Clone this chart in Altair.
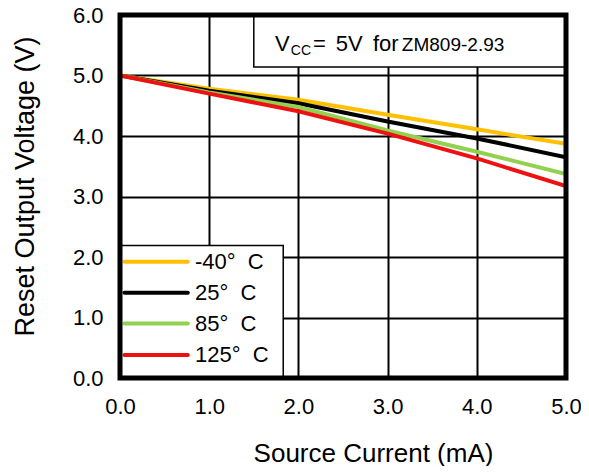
import altair as alt
import pandas as pd

current = [0.0, 1.0, 2.0, 3.0, 4.0, 5.0]
series_keys = ["-40", "25", "85", "125"]
series_labels = ["-40°\u00a0\u00a0C", "25°\u00a0\u00a0C", "85°\u00a0\u00a0C", "125°\u00a0\u00a0C"]
v_m40 = [5.0, 4.78, 4.60, 4.35, 4.11, 3.87]
v_25 = [5.0, 4.75, 4.54, 4.24, 3.96, 3.65]
v_85 = [5.0, 4.72, 4.48, 4.09, 3.74, 3.37]
v_125 = [5.0, 4.70, 4.41, 4.04, 3.63, 3.17]
colors = ["#FFC000", "#000000", "#92D050", "#EE1111"]
x_ticks = [0, 1, 2, 3, 4, 5]
y_ticks = [0, 1, 2, 3, 4, 5, 6]

rows = []
for name, vals in zip(series_keys, [v_m40, v_25, v_85, v_125]):
    for c, v in zip(current, vals):
        rows.append({"I": c, "V": v, "T": name})
df = pd.DataFrame(rows)

FONT = "Liberation Sans"

xs = alt.Scale(domain=[0, 5], nice=False, zero=False)
ys = alt.Scale(domain=[0, 6], nice=False)
cs = alt.Scale(domain=series_keys, range=colors)

lines = alt.Chart(df).mark_line(strokeWidth=4, clip=True).encode(
    x=alt.X("I:Q", scale=xs, title="Source Current (mA)",
            axis=alt.Axis(values=x_ticks, format=".1f", grid=True, gridColor="black",
                          gridWidth=2, gridOpacity=1, tickSize=0, domain=False,
                          labelFlush=False,
                          labelFontSize=22, labelFont=FONT, labelColor="black",
                          labelPadding=18, titleFontSize=26, titleFont=FONT,
                          titleFontWeight="normal", titleColor="black", titlePadding=23,
                          titleX=253)),
    y=alt.Y("V:Q", scale=ys, title="Reset Output Voltage (V)",
            axis=alt.Axis(values=y_ticks, format=".1f", grid=True, gridColor="black",
                          gridWidth=2, gridOpacity=1, tickSize=0, domain=False,
                          labelFontSize=22, labelFont=FONT, labelColor="black",
                          labelPadding=17, titleFontSize=27, titleFont=FONT,
                          titleFontWeight="normal", titleColor="black", titlePadding=33,
                          titleY=171)),
    color=alt.Color("T:N", scale=cs, legend=None),
    order=alt.Order("I:Q"),
)

# annotation box
box_df = pd.DataFrame({"x": [1.5], "x2": [5.0], "y": [5.14], "y2": [6.0]})
box = alt.Chart(box_df).mark_rect(fill="white", stroke="black", strokeWidth=1.5).encode(
    x=alt.X("x:Q", scale=xs), x2="x2:Q", y=alt.Y("y:Q", scale=ys), y2="y2:Q")

ann_text = ["V", "CC", "=", "5V", "for", "ZM809-2.93"]
ann_x = [1.738, 1.915, 2.165, 2.42, 2.836, 3.16]
ann_y = [5.405, 5.347, 5.405, 5.405, 5.405, 5.405]
ann_size = [22, 14, 22, 22, 22, 19]
ann_df = pd.DataFrame({"t": ann_text, "x": ann_x, "y": ann_y, "s": ann_size})
ann = alt.Chart(ann_df).mark_text(align="left", baseline="alphabetic", font=FONT,
                                  color="black").encode(
    x=alt.X("x:Q", scale=xs), y=alt.Y("y:Q", scale=ys), text="t:N",
    size=alt.Size("s:Q", scale=None, legend=None))

# legend (drawn in data space)
leg_box_df = pd.DataFrame({"x": [0.0], "x2": [1.83], "y": [0.0], "y2": [2.19]})
leg_box = alt.Chart(leg_box_df).mark_rect(fill="white", stroke="black", strokeWidth=1.5).encode(
    x=alt.X("x:Q", scale=xs), x2="x2:Q", y=alt.Y("y:Q", scale=ys), y2="y2:Q")

leg_y = [1.92, 1.41, 0.90, 0.38]
leg_df = pd.DataFrame({"T": series_keys, "L": series_labels, "y": leg_y,
                       "x1": [0.05] * 4, "x2": [0.76] * 4, "xt": [0.84] * 4})
leg_lines = alt.Chart(leg_df).mark_rule(strokeWidth=4, strokeCap="round").encode(
    x=alt.X("x1:Q", scale=xs), x2="x2:Q", y=alt.Y("y:Q", scale=ys),
    color=alt.Color("T:N", scale=cs, legend=None))
leg_text = alt.Chart(leg_df).mark_text(align="left", baseline="middle", font=FONT,
                                       fontSize=22, color="black").encode(
    x=alt.X("xt:Q", scale=xs), y=alt.Y("y:Q", scale=ys), text="L:N")

frame_df = pd.DataFrame({"x": [0.0], "x2": [5.0], "y": [0.0], "y2": [6.0]})
frame = alt.Chart(frame_df).mark_rect(fillOpacity=0, stroke="black", strokeWidth=5).encode(
    x=alt.X("x:Q", scale=xs), x2="x2:Q", y=alt.Y("y:Q", scale=ys), y2="y2:Q")

chart = alt.layer(box, lines, ann, leg_box, leg_lines, leg_text, frame).properties(
    width=446, height=363,
    autosize=alt.AutoSizeParams(type="none"),
    padding={"left": 112, "top": 7, "right": 15, "bottom": 88},
).configure_view(stroke=None).configure(background="white")

chart.save("out.html", embed_options={"renderer": "svg", "actions": False})
